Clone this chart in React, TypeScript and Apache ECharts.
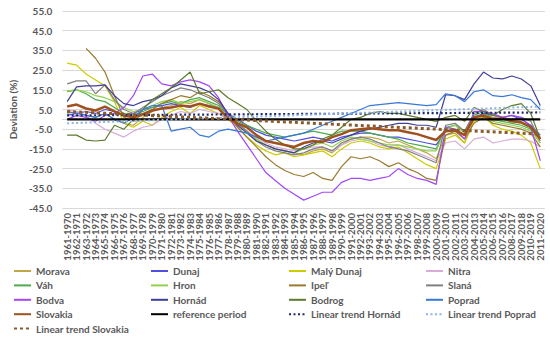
import React, { useEffect, useRef } from "react";
import * as echarts from "echarts";

const startYears: number[] = [];
for (let y = 1961; y <= 2011; y++) startYears.push(y);
const categories = startYears.map((y) => `${y}-${y + 9}`);

const morava = [3, 4, 2, 1, 3, 0, -2, -3, 1, 4, 6, 7, 9, 8, 10, 8, 6, 2, -2, -6, -10, -13, -15, -16, -17, -18, -16, -15, -17, -13, -10, -9, -9, -10, -12, -11, -13, -15, -17, -20, -8, -7, -12, 0, 3, 1, 0, -1, -2, -4, -12];
const dunaj = [2, 3, 4, 3, 5, 4, 2, 3, 5, 6, 7, 8, 7, 6, 8, 7, 6, 3, 0, -3, -6, -8, -9, -10, -11, -10, -9, -10, -11, -9, -8, -7, -7, -8, -9, -9, -10, -11, -12, -13, -6, -5, -8, 1, 3, 2, 1, 2, 0, -3, -8];
const malyDunaj = [28.5, 27.5, 23, 20, 17, 9, -2, -4, -1, -3, 1, 4, 6, 3, 7, 5, 3, 0, -4, -9, -13, -16, -18, -17, -19, -18, -17, -16, -19, -15, -12, -11, -12, -14, -15, -14, -17, -20, -23, -25, -10, -8, -12, -1, 2, -3, -5, -6, -8, -12, -25];
const nitra = [5, 4, 2, -2, -5, -7, -9, -6, -4, -3, 0, 2, 4, 3, 5, 4, 3, 0, -3, -6, -9, -12, -14, -15, -16, -15, -14, -14, -16, -13, -11, -10, -11, -13, -14, -13, -15, -17, -19, -21, -12, -11, -15, -10, -9, -12, -11, -10, -10, -11, -14];
const vah = [14, 15, 13, 10, 9, 6, 3, 2, 4, 6, 8, 9, 8, 10, 11, 9, 7, 3, -1, -3, -5, -7, -8, -9, -8, -7, -6, -7, -8, -6, -6, -6, -7, -8, -9, -10, -12, -13, -14, -15, -4, -3, -6, 2, 4, 0, -1, -2, -3, -5, -9];
const hron = [14.5, 15, 14, 12, 11, 9, 6, 4, 5, 7, 9, 10, 8, 9, 10, 8, 6, 2, -2, -6, -10, -13, -15, -16, -17, -15, -13, -12, -14, -11, -9, -10, -11, -12, -13, -13, -14, -15, -16, -16, -5, -3, -7, 1, 2, -1, -2, -3, -4, -6, -12];
const ipel = [null, null, 36, 31, 24, 12, 1, -1, 3, 5, 8, 10, 12, 11, 14, 12, 9, 3, -4, -9, -14, -19, -23, -26, -28, -29, -27, -30, -31, -24, -19, -20, -19, -21, -24, -22, -25, -27, -30, -31, -8, -6, -10, -2, 1, -2, -3, -4, -5, -7, -14];
const slana = [18, 19.5, 19.5, 13, 17.5, 10, 5, 3, 6, 9, 12, 14, 16, 15, 13, 11, 8, 3, -2, -6, -11, -14, -16, -17, -18, -17, -15, -14, -16, -12, -10, -9, -10, -12, -14, -15, -16, -18, -20, -22, -3, -2, -6, 3, 5, 2, 1, 0, 1, -1, -11];
const bodva = [0, 2, 1, -1, 2, 3, 6, 12, 22, 23, 18, 17, 19, 20, 19, 17, 11, 2, -6, -13, -20, -27, -31, -35, -38, -41, -39, -37, -37, -32, -30, -30, -31, -30, -29, -25, -28, -30, -31, -33, -4, -5, -10, 4, 4, 3, 1, 2, 1, -4, -21];
const hornad = [9, 16.5, 17, 17, 17.5, 12, 8, 7, 9, 10, 12, 16, 18, 17, 16, 14, 10, 3, -3, -7, -11, -13, -15, -16, -17, -14, -12, -11, -12, -10, -8, -6, -5, -4, -3, -2, -2, -3, -3, -4, 12.5, 12, 10, 18, 24, 21, 20.5, 22, 20.5, 17, 7];
const bodrog = [-8, -8, -10.5, -11, -10.5, -3, -5, 0, 5, 10, 13, 16, 20, 24, 13, 14, 15, 11, 8, 5, -1, -6, -10, -13, -15, -15, -13, -10, -8, -4, 0, 1, 3, 4, 3, 3, 2, 1, 0, -1, 1, 2, -1, 6, 4, 2, 5, 7, 8, 3, -10];
const poprad = [4, 3, 2, 1, 3, 0, -2, 1, 5, 7, 7, -6, -5, -4, -8, -9, -6, -5, -6, -7, -9, -11, -10, -9, -8, -7, -5, -3, -1, 1, 3, 5, 7, 7.5, 8, 8.5, 8, 7.5, 7, 7.5, 13, 12, 9, 14, 15, 12, 11.5, 12.5, 11, 10, 5];
const slovakia = [6.5, 7.5, 5.5, 4.5, 6.5, 4, 2, 1, 2.5, 4.5, 5.5, 6, 7, 6.5, 8, 6.5, 5.5, 0.5, -2, -4, -8, -11, -12, -13, -14, -12, -11, -11.5, -9, -7.5, -5.5, -5, -4.5, -5, -5.5, -5.5, -6.5, -7.5, -9, -10.5, -6, -5.5, -8, 1, 2, 0, 0.5, -1, -1.5, -4, -10];

const referenceEnds = [0, 0];
const trendHornadEnds = [2, 3.5];
const trendPopradEnds = [-2, 6.5];
const trendSlovakiaEnds = [4, -7.5];

const yTicks = [-45, -35, -25, -15, -5, 5, 15, 25, 35, 45, 55];

const FONT = "Lato, 'Liberation Sans', sans-serif";
const TEXT = "#595959";

function river(name: string, data: (number | null)[], color: string, width = 1.2) {
  return {
    name,
    type: "line",
    data,
    symbol: "none",
    connectNulls: false,
    lineStyle: { color, width },
    itemStyle: { color },
  };
}

function ends(name: string, e: number[], color: string, width: number, type: any) {
  return {
    name,
    type: "line",
    data: [
      [categories[0], e[0]],
      [categories[categories.length - 1], e[1]],
    ],
    symbol: "none",
    lineStyle: { color, width, type },
    itemStyle: { color },
  };
}

const columns = [
  ["Morava", "Váh", "Bodva", "Slovakia", "Linear trend Slovakia"],
  ["Dunaj", "Hron", "Hornád", "reference period"],
  ["Malý Dunaj", "Ipeľ", "Bodrog", "Linear trend Hornád"],
  ["Nitra", "Slaná", "Poprad", "Linear trend Poprad"],
];
const colLeft = [13, 150, 288, 425];

export default function App() {
  const ref = useRef<HTMLDivElement>(null);
  useEffect(() => {
    document.body.style.margin = "0";
    if (!ref.current) return;
    const chart = echarts.init(ref.current, undefined, { renderer: "svg" });
    const option: any = {
      animation: false,
      backgroundColor: "#ffffff",
      textStyle: { fontFamily: FONT },
      grid: { left: 52, right: 5, top: 11, bottom: 132, containLabel: false },
      legend: columns.map((col, k) => ({
        orient: "vertical",
        left: colLeft[k],
        top: 266,
        data: col,
        itemWidth: 17,
        itemHeight: 10,
        itemGap: 4.4,
        padding: 0,
        itemStyle: { opacity: 0 },
        textStyle: { fontFamily: FONT, fontSize: 10, fontWeight: "bold", color: TEXT, lineHeight: 10 },
      })),
      xAxis: {
        type: "category",
        data: categories,
        boundaryGap: true,
        axisLine: { show: true, lineStyle: { color: "#d9d9d9" } },
        axisTick: { show: false },
        axisLabel: {
          interval: 0,
          rotate: 90,
          fontFamily: FONT,
          fontSize: 9.5,
          fontWeight: "bold",
          color: TEXT,
          margin: 5,
        },
      },
      yAxis: {
        type: "value",
        min: yTicks[0],
        max: yTicks[yTicks.length - 1],
        interval: 10,
        name: "Deviation (%)",
        nameLocation: "middle",
        nameGap: 38,
        nameTextStyle: { fontFamily: FONT, fontSize: 10, fontWeight: "bold", color: TEXT },
        axisLine: { show: false },
        axisTick: { show: false },
        splitLine: { lineStyle: { color: "#d9d9d9", width: 1 } },
        axisLabel: {
          fontFamily: FONT,
          fontSize: 10,
          fontWeight: "bold",
          color: TEXT,
          margin: 10,
          formatter: (v: number) => v.toFixed(1),
        },
      },
      series: [
        river("Morava", morava, "#c2a64a"),
        river("Dunaj", dunaj, "#5050e0"),
        river("Malý Dunaj", malyDunaj, "#cccc00"),
        river("Nitra", nitra, "#d8acd8"),
        river("Váh", vah, "#4cac4c"),
        river("Hron", hron, "#92d050"),
        river("Ipeľ", ipel, "#9a7b2e"),
        river("Slaná", slana, "#808080"),
        river("Bodva", bodva, "#a347f5"),
        river("Hornád", hornad, "#3f3f99"),
        river("Bodrog", bodrog, "#5e7a2a"),
        river("Poprad", poprad, "#3a78d8"),
        river("Slovakia", slovakia, "#a0501e", 2.5),
        ends("reference period", referenceEnds, "#000000", 2.2, "solid"),
        ends("Linear trend Hornád", trendHornadEnds, "#1f2a6b", 2.2, [2, 2.5]),
        ends("Linear trend Poprad", trendPopradEnds, "#8cb4e8", 2, [2, 2.5]),
        ends("Linear trend Slovakia", trendSlovakiaEnds, "#8b5a2b", 3, [3, 3]),
      ],
    };
    chart.setOption(option);
    return () => chart.dispose();
  }, []);
  return <div ref={ref} style={{ width: 550, height: 340 }} />;
}
